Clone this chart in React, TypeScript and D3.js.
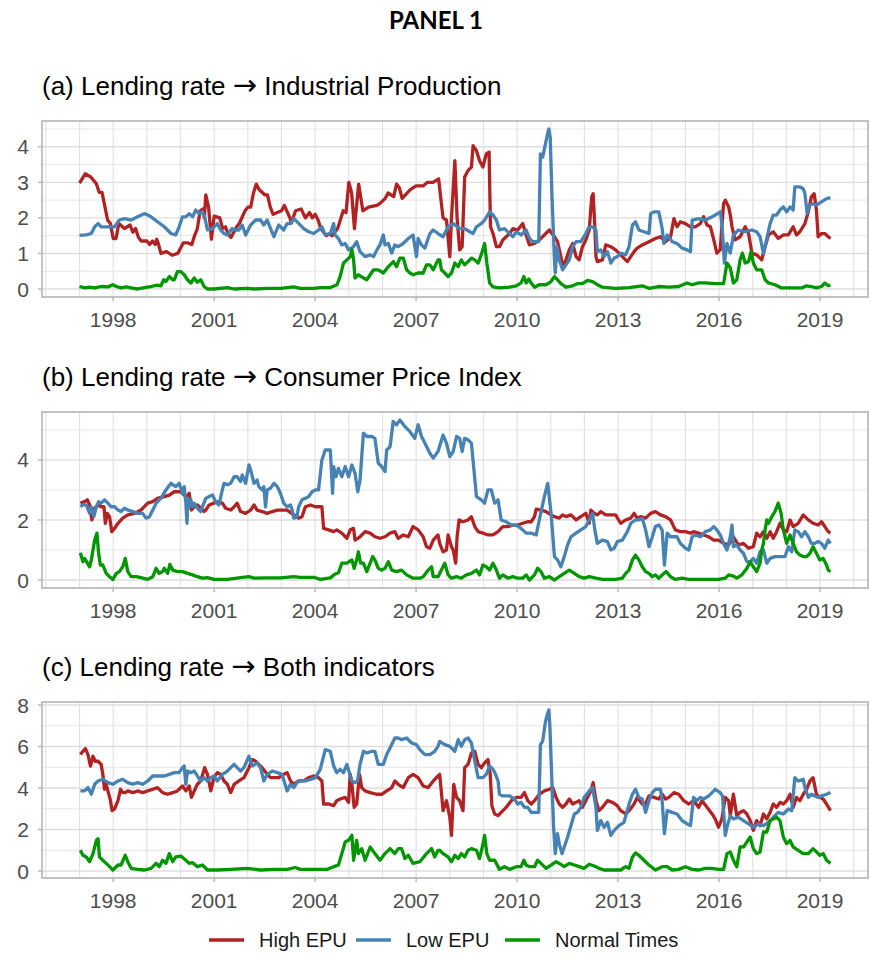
import * as d3 from 'd3';

// months since Jan 1997 -> value
type Pt = [number, number];

const seriesNames = ['High EPU', 'Low EPU', 'Normal Times'];
const seriesColors = ['#B22222', '#4682B4', '#009600'];

const highIP: Pt[] = [[0,2.98],[2,3.24],[4,3.15],[6,2.96],[7,2.72],[8,2.72],[10,1.94],[11,1.84],[12,1.42],[13,1.42],[14,1.84],[16,1.70],[18,1.80],[19,1.60],[20,1.70],[21,1.45],[22,1.35],[24,1.35],[25,1.25],[26,1.35],[27,1.25],[27.5,1.40],[28,1.30],[29,1.00],[31,1.05],[32,1.00],[33,0.95],[35,1.00],[37,1.30],[38.5,1.30],[40,1.25],[41,1.50],[42,1.70],[43,2.20],[44,2.25],[44.5,2.00],[45,2.65],[46,2.30],[47,1.40],[48,2.05],[50,2.00],[51,1.70],[52,1.75],[53,1.55],[54,1.45],[56,1.75],[57,1.85],[59,2.20],[60,2.30],[61,2.30],[62,2.70],[63,2.95],[64,2.80],[66,2.65],[67,2.65],[68,2.30],[69,2.10],[70.5,2.15],[72,2.20],[73,2.35],[75,2.00],[75.5,1.85],[77,2.20],[79,2.25],[80.5,2.00],[82,2.15],[83,2.00],[84,2.10],[85,1.95],[86,1.70],[88,1.50],[89,1.55],[90,1.50],[92,1.70],[93,1.95],[94,2.20],[95,2.15],[96,3.00],[97,2.70],[98,1.70],[99.5,2.95],[101,2.20],[103,2.30],[106,2.35],[107,2.40],[109,2.55],[110,2.70],[112,2.60],[113,2.95],[114,2.85],[115,2.55],[118,2.80],[120,2.90],[122.5,2.90],[124,3.00],[126,3.00],[128,3.10],[129,2.40],[129.6,2.00],[130.8,1.94],[132,0.91],[132.6,2.00],[133.8,3.61],[134.6,2.0],[135.5,1.10],[136.4,1.19],[137.3,3.15],[138.5,3.33],[139.7,3.43],[140.3,4.03],[141.5,3.89],[142.6,3.61],[143.8,3.43],[145,3.80],[146,3.85],[146.5,1.75],[147.4,1.56],[148.6,1.19],[149.7,1.19],[150.9,1.38],[153.3,1.56],[154.5,1.70],[156.2,1.66],[158,1.84],[159.2,1.52],[160.4,1.24],[162.2,1.28],[163.9,1.38],[165.7,1.52],[167.5,1.66],[169.3,1.47],[170.4,1.33],[171.6,0.91],[172.2,0.63],[173.4,0.82],[174.6,1.10],[175.8,1.28],[177,0.91],[178.1,0.82],[179.3,1.19],[180.5,1.38],[181.7,1.66],[182.6,2.59],[183.1,2.68],[183.7,1.75],[184.1,0.91],[184.6,0.77],[186.4,0.82],[187.6,1.24],[189.4,1.19],[191.1,1.10],[192.3,1.01],[193.5,0.91],[195.3,0.77],[196.5,0.91],[197.7,1.05],[198.8,1.15],[200.6,1.24],[203,1.33],[205.3,1.42],[207.1,1.47],[208.9,1.33],[210.7,1.47],[211.9,1.98],[213,1.75],[214.2,1.89],[216,1.84],[217.8,1.75],[219.5,1.75],[221.3,1.84],[222.5,2.03],[223.7,1.80],[224.9,1.75],[226.1,1.38],[227.2,1.01],[228.4,1.10],[229.6,2.40],[230.2,2.50],[231.4,2.31],[232,2.08],[232.6,1.75],[233.7,1.38],[235.5,1.47],[237.3,1.75],[238.5,1.56],[239.7,1.01],[241.4,0.96],[243.2,0.82],[244.4,1.19],[245.6,1.52],[247.3,1.61],[249.1,1.42],[250.9,1.52],[252.7,1.52],[254.4,1.75],[255.6,1.52],[256.8,1.61],[258.6,1.84],[259.8,2.17],[260.9,2.59],[261.9,2.68],[262.7,2.22],[263.3,1.47],[264.5,1.56],[265.7,1.56],[266.9,1.47],[267.7,1.42]];

const lowIP: Pt[] = [[0,1.51],[2.4,1.52],[4.2,1.56],[5.4,1.75],[6.6,1.84],[7.7,1.75],[10.1,1.75],[12.5,1.75],[14.2,1.94],[16,1.98],[18.4,1.94],[20.7,2.03],[23.1,2.12],[24.3,2.08],[25.5,2.03],[27.8,1.89],[30.2,1.75],[32.6,1.56],[34.3,1.52],[35.5,1.75],[36.7,2.03],[37.9,2.03],[39.1,2.12],[40.3,2.03],[41.4,2.22],[42.6,2.12],[43.8,2.17],[44.6,2.03],[45.6,1.66],[47.4,1.70],[49.1,1.84],[50.3,1.66],[51.5,1.56],[52.7,1.52],[54.4,1.70],[55.6,1.66],[56.8,1.66],[58,1.80],[59.2,1.52],[61,1.80],[62.8,1.94],[64.5,1.94],[65.7,1.80],[66.9,1.94],[68.1,1.70],[69.3,1.47],[71,1.80],[72.8,1.66],[74,1.84],[75.2,1.84],[76.4,1.98],[78.2,1.84],[79.9,1.70],[81.7,1.61],[83.5,1.56],[85.2,1.66],[86.4,1.75],[87.6,1.52],[89.4,1.56],[90.6,1.84],[91.1,1.52],[92.3,1.42],[93.5,1.24],[94.7,1.28],[95.9,1.10],[97.7,1.19],[98.8,1.33],[100,1.05],[101.8,0.91],[103.6,0.96],[104.8,0.91],[106,1.10],[107.1,1.24],[108.3,1.52],[108.9,1.24],[110.1,1.28],[111.3,1.01],[112.4,1.24],[113.6,1.19],[115.4,1.28],[117.2,1.42],[118.9,1.52],[120.1,0.91],[120.7,1.42],[121.9,1.24],[123.1,1.15],[124.9,1.56],[126.1,1.66],[127.8,1.56],[129.6,1.47],[131.4,1.75],[133.2,1.84],[135.5,1.70],[137.3,1.70],[139.1,1.61],[140.3,1.56],[141.5,1.75],[143.2,1.84],[144.4,1.94],[146.2,2.17],[147.4,2.08],[148.6,1.94],[149.7,1.66],[151.5,1.70],[153.3,1.56],[154.5,1.47],[155.7,1.61],[157.4,1.52],[159.2,1.66],[160.4,1.42],[161.6,1.33],[162.8,1.33],[163.7,1.33],[164.3,3.80],[165.1,3.71],[166.1,4.08],[166.7,4.31],[167.3,4.50],[167.8,4.26],[168.4,2.68],[169.3,0.82],[169.6,0.45],[170.2,1.19],[171,0.82],[172.2,0.54],[173.4,0.68],[174.6,0.82],[175.8,1.19],[177,1.33],[178.7,1.33],[180.5,1.56],[181.7,1.75],[182.9,1.75],[184.1,1.66],[184.6,1.05],[185.8,1.10],[187,0.91],[188.2,1.05],[189.4,0.73],[190.6,0.87],[191.7,0.91],[192.9,1.01],[194.7,0.96],[195.9,1.19],[197.1,1.80],[198.2,1.89],[199.4,1.66],[201.2,1.61],[203,1.56],[203.6,2.12],[204.8,2.17],[206.5,2.17],[207.7,1.70],[208.3,1.28],[209.5,1.52],[211.3,1.33],[213,1.28],[214.8,1.15],[216.6,1.10],[217.8,1.05],[218.4,1.94],[220.7,1.98],[223.1,1.94],[225.5,2.03],[226.6,2.08],[228.4,2.17],[229,1.84],[229.9,0.73],[230.8,1.28],[232,1.01],[233.1,1.52],[234.9,1.66],[237.3,1.61],[239.7,1.66],[241.4,1.61],[242.6,1.47],[243.8,1.01],[245,1.42],[246.2,1.84],[247.3,2.08],[248.5,2.08],[249.7,2.22],[250.9,2.31],[252.1,2.17],[253.3,2.31],[254.4,2.22],[255,2.87],[256.8,2.87],[258,2.82],[258.6,2.68],[259.4,2.12],[260.3,2.36],[261.5,2.40],[262.7,2.36],[264.5,2.45],[266.3,2.54],[267.7,2.57]];

const normalIP: Pt[] = [[0,0.07],[1.8,0.03],[3.6,0.05],[5.4,0.03],[7.7,0.07],[10.1,0.06],[11.9,0.12],[13.1,0.07],[14.8,0.03],[16.6,0.06],[18.4,0.03],[20.7,0],[23.1,0.04],[25.5,0.07],[27.8,0.11],[29,0.09],[30,0.26],[30.8,0.21],[32,0.35],[33.2,0.26],[33.8,0.26],[34.9,0.49],[36.1,0.49],[37.3,0.40],[38.5,0.26],[39.7,0.17],[40.9,0.31],[42,0.19],[43.2,0.26],[44.4,0.07],[45.6,0],[47.9,0],[52.7,0.04],[55.1,0],[59.8,0.02],[62.2,0],[66.9,0.02],[71.6,0.02],[76.4,0.06],[78.7,0.02],[83.5,0.02],[85.8,0.04],[89.4,0.04],[91.8,0.12],[92.9,0.35],[94.1,0.73],[95.3,0.82],[96.5,0.91],[97.1,1.10],[97.7,0.82],[98.2,0.31],[99.4,0.40],[101.2,0.31],[102.4,0.26],[103.6,0.40],[104.8,0.54],[106.5,0.54],[108.3,0.45],[110.1,0.63],[111.9,0.77],[113,0.63],[114.2,0.87],[115.4,0.87],[116.6,0.54],[117.8,0.45],[118.9,0.40],[120.7,0.45],[122.5,0.45],[123.7,0.68],[124.9,0.68],[126.1,0.54],[127.8,0.82],[128.4,0.82],[129,0.54],[130.2,0.45],[131.4,0.35],[132.6,0.45],[133.8,0.73],[135,0.63],[136.1,0.82],[137.3,0.68],[138.5,0.77],[139.7,0.87],[140.9,0.82],[142.1,0.73],[143.2,0.96],[144.4,1.28],[145.2,0.73],[146.2,0.17],[147.4,0.06],[149.7,0.03],[153.3,0.05],[155.7,0.09],[157.4,0.17],[158.4,0.35],[159.2,0.17],[160.2,0.28],[161,0.17],[162.2,0.05],[163.9,0.12],[166.3,0.12],[168.1,0.21],[169.3,0.35],[170.4,0.26],[171.6,0.15],[173.4,0.05],[175.8,0.09],[177.5,0.15],[179.3,0.15],[181.1,0.24],[182.9,0.21],[184.6,0.12],[186.4,0.05],[191.1,0.02],[195.9,0.04],[200.6,0.09],[203,0.02],[206.5,0.07],[210.1,0.05],[213.6,0.07],[216.6,0.17],[218.4,0.12],[220.7,0.17],[223.1,0.17],[226.6,0.15],[229.6,0.15],[230.8,0.73],[232,0.59],[233.1,0.17],[234.3,0.26],[235.5,0.82],[236.3,1.01],[237.3,0.73],[238.5,0.77],[239.4,1.05],[240.2,0.73],[241.4,0.54],[243.2,0.54],[244.4,0.26],[245.6,0.17],[247.9,0.12],[250.3,0.03],[253.8,0.03],[257.4,0.03],[259.2,0.09],[260.9,0.07],[262.7,0.03],[264.5,0.07],[265.7,0.17],[266.9,0.09],[267.7,0.11]];

const highCPI: Pt[] = [[0.3,2.56],[1.8,2.61],[2.8,2.67],[3.6,2.50],[4.4,2.00],[5.4,2.39],[6.6,2.50],[7.7,2.44],[8.7,2.44],[9.2,1.89],[9.9,2.22],[10.7,2.11],[11.5,1.61],[12.5,1.72],[13.7,1.89],[15.4,2.06],[17.2,2.17],[19.6,2.22],[21.9,2.33],[24.3,2.56],[26.1,2.61],[27.8,2.72],[30.2,2.78],[32,2.83],[33.8,2.94],[36.1,2.94],[37.3,2.83],[38.5,2.78],[39.1,2.89],[39.9,2.33],[40.9,2.44],[42,2.50],[43.2,2.39],[44.4,2.28],[45,2.33],[46.2,2.50],[47.9,2.56],[49.7,2.61],[50.9,2.56],[52.1,2.39],[53.9,2.33],[55.1,2.44],[56.2,2.56],[57.4,2.28],[59.2,2.22],[61,2.33],[62.2,2.50],[63.3,2.33],[65.1,2.28],[66.9,2.22],[68.7,2.28],[70.5,2.33],[72.2,2.33],[74,2.33],[76.4,2.17],[78.1,2.06],[79.3,2.11],[80.5,2.44],[82.3,2.50],[84.1,2.44],[85.2,2.44],[86.4,2.44],[87,1.72],[88.8,1.67],[90.6,1.61],[91.7,1.67],[93.5,1.56],[95.3,1.39],[96.5,1.67],[97.7,1.72],[98.2,1.33],[100,1.44],[101.8,1.61],[103.6,1.56],[105.3,1.44],[107.1,1.39],[108.9,1.44],[110.7,1.56],[112.4,1.61],[113.6,1.39],[115.4,1.50],[117.2,1.44],[118.9,1.78],[120.7,1.67],[122.5,1.44],[123.7,1.11],[124.9,1.06],[126.1,1.33],[127.8,1.50],[128.4,1.22],[129.6,0.94],[130.8,1.00],[131.4,1.50],[132.6,1.11],[133.2,1.00],[134.1,0.56],[134.6,1.44],[135.3,2.00],[136.7,1.94],[138.5,2.00],[139.7,2.11],[140.9,1.78],[142.1,1.61],[143.8,1.56],[145.6,1.50],[147.4,1.50],[149.2,1.61],[150.9,1.78],[152.7,1.78],[154.5,1.83],[156.2,1.83],[158,1.89],[159.8,1.94],[161,1.94],[162.2,2.11],[162.8,2.36],[164.5,2.33],[166.3,2.28],[168.1,2.17],[169.3,2.11],[171,2.06],[172.2,2.17],[173.4,2.11],[175.2,2.17],[177,2.00],[178.7,2.11],[180.5,2.22],[181.7,1.89],[182.3,2.33],[183.5,2.22],[184.6,2.17],[185.8,2.28],[187.6,2.17],[189.4,2.17],[191.1,2.17],[192.9,1.89],[194.7,2.00],[196.5,2.06],[197.7,2.22],[198.8,2.06],[200,2.11],[201.8,2.06],[203.6,2.22],[205.3,2.28],[207.1,2.17],[208.9,2.11],[210.7,2.00],[212.4,1.67],[214.2,1.61],[216,1.61],[217.8,1.56],[218.9,1.61],[220.7,1.56],[222.5,1.50],[224.3,1.44],[226.1,1.33],[227.8,1.33],[229.6,1.22],[231.4,1.17],[233.1,1.44],[234.9,1.17],[236.7,1.22],[238.5,1.06],[240.2,1.11],[241.4,1.56],[242.6,1.44],[243.8,1.61],[245,1.39],[246.2,1.61],[247.3,1.39],[248.5,1.61],[249.7,1.89],[250.9,1.67],[252.1,1.61],[253.3,2.00],[254.4,1.78],[256.2,1.89],[258,2.17],[259.8,2.00],[261.5,1.89],[263.3,1.83],[264.5,1.94],[265.7,1.78],[266.9,1.61],[267.7,1.56]];

const lowCPI: Pt[] = [[0.3,2.44],[1.2,2.50],[2.4,2.50],[3.6,2.22],[4.2,2.44],[5.1,2.11],[6.0,2.44],[6.8,2.61],[7.7,2.56],[8.9,2.67],[10.1,2.56],[11.3,2.44],[12.5,2.44],[13.7,2.33],[14.8,2.28],[16.0,2.39],[17.2,2.33],[19.0,2.28],[20.7,2.22],[22.5,2.22],[23.7,2.06],[24.9,2.11],[26.1,2.33],[27.3,2.56],[29.0,2.72],[30.8,3.00],[32.6,3.22],[34.3,3.11],[35.5,3.22],[36.7,2.89],[37.3,3.11],[37.9,2.56],[38.3,1.89],[38.7,2.72],[39.1,2.44],[39.7,2.67],[40.3,2.44],[40.9,2.56],[42.0,2.39],[43.2,2.28],[43.8,2.44],[45.0,2.72],[46.2,2.78],[47.4,2.83],[48.5,2.61],[49.7,2.50],[50.9,3.00],[51.5,3.22],[52.7,3.17],[53.9,3.22],[55.1,3.44],[56.2,3.44],[57.4,3.28],[58.0,3.50],[59.2,3.22],[60.4,3.83],[61.0,3.67],[62.2,3.22],[63.3,3.33],[63.9,3.11],[65.1,3.00],[65.7,3.11],[66.3,2.44],[66.9,3.00],[68.1,3.06],[69.3,3.22],[70.5,3.11],[71.6,2.89],[72.8,2.56],[74.0,2.44],[75.2,2.50],[75.8,2.33],[76.4,2.06],[77.5,2.11],[78.1,2.44],[79.3,2.67],[80.5,2.72],[81.7,2.78],[82.9,2.94],[84.1,3.00],[85.2,3.00],[86.4,4.00],[87.6,4.33],[89.4,4.33],[90.2,2.89],[90.6,3.78],[91.4,3.44],[92.3,3.72],[93.5,3.44],[94.7,3.78],[95.9,3.44],[97.1,3.83],[98.2,3.56],[99.2,2.94],[100.0,3.33],[101.2,4.89],[102.4,4.78],[104.2,4.78],[105.3,4.72],[106.5,3.89],[107.7,3.78],[108.9,3.61],[109.5,4.33],[110.7,4.44],[111.8,5.28],[113.0,5.17],[114.2,5.33],[116.0,5.11],[117.8,4.94],[119.5,4.72],[120.7,5.17],[121.9,4.78],[123.1,4.56],[124.9,4.22],[126.1,4.06],[127.8,4.28],[129.6,4.83],[130.8,4.56],[132.0,4.11],[133.2,4.28],[134.4,4.78],[135.5,4.72],[136.4,4.28],[137.3,4.72],[138.5,4.67],[139.7,4.56],[141.5,2.78],[143.2,2.67],[144.4,2.56],[145.6,3.00],[146.8,3.00],[148.0,2.56],[149.2,2.67],[150.3,2.00],[152.1,1.94],[153.9,1.83],[155.7,1.83],[157.4,1.72],[159.2,1.56],[161.0,1.56],[162.8,1.50],[163.9,2.00],[165.7,2.78],[166.9,3.22],[168.1,2.22],[169.3,0.78],[170.4,0.67],[171.6,0.44],[172.8,0.78],[174.0,1.17],[175.2,1.44],[177.0,1.56],[178.7,1.67],[180.5,1.78],[181.7,2.00],[182.9,2.22],[183.7,1.67],[184.6,1.22],[186.4,1.33],[188.2,1.28],[189.4,1.00],[190.6,1.06],[191.7,1.28],[193.5,1.33],[195.3,1.61],[196.5,1.89],[198.2,2.00],[199.4,2.00],[200.6,2.06],[201.8,1.67],[203.0,1.11],[204.2,1.44],[205.3,1.78],[206.5,1.83],[207.7,1.67],[208.5,0.50],[209.5,1.56],[210.7,1.44],[211.9,1.44],[213.0,1.44],[214.2,1.22],[216.0,1.06],[217.2,1.00],[218.4,1.44],[219.5,1.50],[221.3,1.44],[223.1,1.61],[224.9,1.67],[226.1,1.78],[227.2,1.67],[228.4,1.50],[229.6,1.22],[230.8,1.00],[232.0,1.44],[232.6,1.83],[233.1,1.11],[234.3,1.17],[235.5,1.00],[236.7,0.89],[237.9,0.61],[239.1,0.61],[240.2,0.72],[241.4,0.56],[242.6,0.94],[243.8,1.00],[245.0,0.56],[246.2,0.72],[247.9,0.78],[249.7,0.78],[251.5,0.78],[252.7,1.11],[253.9,0.94],[255.0,1.67],[256.2,1.61],[257.4,1.44],[258.6,1.61],[259.8,1.44],[260.9,1.22],[262.1,1.22],[263.3,1.28],[264.5,1.22],[265.7,1.06],[266.9,1.33],[267.7,1.22]];

const normalCPI: Pt[] = [[0.3,0.91],[1.2,0.61],[1.8,0.72],[2.8,0.56],[3.6,0.44],[4.2,0.67],[5.4,1.33],[6.2,1.56],[6.8,0.89],[7.4,0.50],[8.3,0.50],[9.5,0.22],[10.7,0.11],[11.9,0.02],[13.1,0.22],[14.2,0.28],[15.4,0.44],[16.3,0.72],[17.2,0.28],[18.4,0.11],[20.2,0.11],[21.9,0.08],[24.3,0.02],[26.1,0.11],[27.3,0.39],[28.4,0.22],[29.6,0.28],[30.2,0.39],[31.4,0.22],[32.2,0.52],[33.2,0.33],[34.9,0.28],[36.7,0.28],[38.5,0.22],[40.3,0.17],[42.0,0.11],[43.8,0.06],[45.6,0.08],[47.9,0.02],[52.7,0.02],[57.4,0.08],[60.4,0.11],[62.2,0.06],[66.9,0.07],[71.6,0.07],[76.4,0.11],[78.7,0.09],[83.5,0.09],[85.8,0.02],[89.4,0.07],[91.1,0.20],[92.3,0.24],[93.5,0.56],[95.3,0.56],[97.1,0.67],[97.9,0.39],[98.8,0.67],[99.4,0.94],[100.2,0.56],[101.2,0.56],[102.4,0.28],[103.6,0.56],[104.5,0.78],[105.3,0.67],[106.5,0.39],[107.7,0.33],[108.9,0.39],[110.1,0.61],[111.3,0.33],[113.0,0.28],[114.8,0.33],[116.6,0.17],[118.9,0.06],[121.3,0.06],[122.5,0.11],[124.3,0.33],[125.5,0.44],[126.1,0.11],[127.8,0.11],[129.0,0.33],[130.2,0.56],[131.4,0.17],[132.6,0.06],[134.4,0.11],[136.1,0.06],[137.9,0.17],[139.7,0.22],[141.5,0.33],[142.6,0.17],[143.8,0.50],[145.0,0.44],[146.2,0.33],[147.4,0.56],[148.6,0.33],[149.7,0.06],[150.9,0.17],[152.7,0.06],[154.5,0.11],[156.2,0.06],[158.0,0.06],[159.2,0.17],[160.4,0.00],[162.2,0.17],[163.3,0.39],[164.5,0.28],[165.7,0.06],[167.5,0.11],[169.3,0.00],[171.0,0.11],[172.8,0.22],[174.6,0.33],[176.4,0.22],[178.1,0.11],[179.9,0.06],[181.7,0.11],[184.1,0.06],[186.4,0.02],[191.1,0.02],[193.5,0.06],[194.7,0.22],[195.9,0.33],[197.1,0.67],[198.2,0.83],[199.4,0.67],[200.6,0.44],[201.8,0.28],[203.0,0.22],[204.2,0.11],[205.3,0.17],[206.5,0.06],[207.7,0.17],[209.1,0.28],[210.7,0.11],[212.4,0.02],[214.8,0.06],[217.2,0.02],[220.7,0.02],[224.3,0.02],[227.8,0.02],[230.2,0.06],[231.4,0.17],[233.1,0.13],[234.3,0.06],[236.1,0.17],[237.9,0.39],[239.1,0.61],[240.2,0.44],[241.4,0.28],[242.6,0.56],[243.2,1.00],[243.8,1.22],[244.4,1.67],[245.0,2.00],[245.6,1.89],[246.8,2.11],[247.9,2.28],[249.1,2.56],[250.1,2.22],[250.9,1.67],[252.1,1.22],[253.3,1.50],[254.4,1.22],[255.6,0.94],[256.8,0.83],[258.0,0.78],[259.2,0.78],[260.4,0.89],[261.5,1.11],[262.7,0.89],[263.9,0.67],[265.1,0.72],[266.3,0.50],[266.9,0.33],[267.7,0.28]];

const highBoth: Pt[] = [[0.3,5.61],[1.2,5.77],[2.1,5.90],[3.0,5.61],[3.9,5.06],[4.8,5.53],[5.6,5.29],[6.6,5.29],[7.7,5.14],[8.3,4.66],[8.9,3.94],[9.5,4.18],[10.1,3.86],[10.9,3.47],[11.6,2.91],[12.5,2.99],[13.7,3.39],[14.6,3.94],[15.4,3.78],[16.3,3.78],[17.2,3.86],[19.0,3.78],[20.7,3.86],[22.5,3.78],[24.3,3.86],[26.1,3.94],[27.8,4.02],[29.6,3.78],[31.4,3.70],[33.2,3.78],[34.9,3.86],[36.7,4.10],[37.9,3.86],[39.1,4.10],[39.9,3.55],[40.9,3.86],[42.0,4.18],[43.2,4.34],[44.6,4.98],[45.6,4.66],[46.8,3.86],[47.9,4.50],[49.1,4.74],[50.3,4.66],[51.5,4.34],[52.7,4.18],[53.9,3.78],[55.1,4.18],[56.8,4.34],[58.6,4.50],[60.4,4.98],[61.6,5.37],[62.8,5.29],[63.9,5.14],[65.1,4.98],[66.9,4.66],[68.1,4.50],[69.3,4.50],[71.0,4.50],[72.8,4.66],[74.0,4.74],[75.2,4.34],[76.4,4.18],[78.1,4.34],[79.9,4.34],[81.7,4.50],[83.5,4.58],[85.2,4.50],[86.4,4.34],[87.0,3.23],[88.8,3.23],[90.6,3.15],[91.7,3.39],[92.9,3.47],[94.7,3.55],[95.9,3.31],[96.5,4.66],[97.1,4.18],[97.9,3.07],[98.8,3.23],[99.8,4.66],[100.6,4.02],[101.8,3.86],[103.6,3.78],[105.9,3.70],[107.7,3.70],[109.5,3.86],[111.3,4.02],[112.4,4.34],[113.6,4.18],[115.4,4.02],[117.2,4.50],[118.9,4.66],[120.7,4.50],[122.5,4.10],[124.3,4.02],[126.1,4.34],[127.8,4.58],[128.4,4.66],[129.6,2.91],[130.8,3.39],[132.0,2.59],[132.6,1.72],[133.4,4.18],[134.4,3.55],[135.5,3.39],[136.7,2.91],[137.3,4.98],[138.5,5.14],[139.7,5.69],[140.9,5.77],[142.1,5.14],[143.2,4.98],[144.4,5.21],[145.6,5.37],[146.4,4.66],[147.0,3.15],[148.0,2.75],[149.2,2.67],[150.3,2.83],[152.1,3.07],[153.9,3.39],[155.7,3.55],[157.4,3.55],[158.6,3.78],[159.8,3.39],[161.0,3.23],[162.2,3.39],[163.9,3.70],[165.7,3.86],[167.5,3.94],[168.7,4.02],[169.9,3.55],[171.0,3.23],[172.2,3.07],[173.4,3.23],[174.6,3.47],[175.8,3.23],[177.0,3.31],[178.1,3.39],[179.3,3.07],[181.1,3.55],[182.3,3.86],[183.1,4.26],[184.1,3.39],[185.2,2.91],[186.4,3.07],[188.2,3.39],[190.0,3.31],[191.7,3.15],[192.9,2.91],[194.7,2.75],[195.9,2.91],[197.7,3.23],[198.8,3.55],[200.6,3.23],[201.8,3.23],[203.0,3.62],[204.8,3.55],[206.5,3.47],[207.7,3.70],[208.9,3.47],[210.1,3.55],[211.9,3.78],[213.6,3.70],[215.4,3.39],[217.2,3.23],[218.9,3.39],[220.7,3.07],[221.9,3.39],[223.7,3.07],[225.5,2.75],[226.6,2.51],[227.8,2.11],[229.0,2.51],[230.2,3.55],[231.4,3.39],[232.0,2.67],[233.1,3.70],[234.3,2.67],[235.5,2.83],[236.7,2.91],[237.9,2.75],[239.1,2.43],[240.2,1.96],[241.4,2.43],[242.6,2.19],[243.8,2.75],[245.0,2.51],[246.2,2.83],[247.3,3.23],[248.5,3.07],[249.7,3.31],[250.9,3.23],[252.1,3.39],[253.3,3.70],[254.4,3.07],[255.6,3.55],[256.8,3.39],[258.0,3.70],[259.2,3.94],[260.4,4.34],[261.5,4.50],[262.7,3.70],[263.9,3.55],[265.1,3.47],[266.3,3.23],[267.7,2.91]];

const lowBoth: Pt[] = [[0.3,3.86],[1.8,3.86],[3.0,4.02],[4.2,3.70],[5.4,4.18],[6.6,4.34],[8.3,4.42],[10.1,4.26],[11.9,4.18],[13.7,4.34],[15.4,4.42],[17.2,4.26],[19.0,4.18],[20.7,4.26],[22.5,4.18],[24.3,4.34],[26.1,4.58],[27.8,4.58],[30.2,4.58],[32.0,4.66],[33.8,4.74],[35.5,4.74],[36.7,4.98],[37.3,5.06],[37.9,4.18],[38.5,4.82],[39.7,4.74],[40.9,4.82],[42.0,4.58],[43.2,4.34],[44.4,4.50],[45.6,4.34],[46.8,4.50],[47.9,4.58],[49.1,4.34],[50.9,4.66],[52.7,4.82],[53.9,4.98],[55.1,5.14],[56.2,4.98],[57.4,4.82],[58.6,4.98],[60.4,5.53],[61.6,5.06],[63.3,5.21],[64.5,4.98],[65.7,4.34],[66.9,4.66],[68.7,4.82],[70.5,4.74],[72.2,4.66],[74.0,3.86],[75.2,4.18],[76.4,4.02],[77.5,4.26],[78.7,4.34],[80.5,4.34],[82.3,4.42],[84.1,4.50],[85.8,4.90],[87.6,5.85],[89.4,5.77],[90.6,5.06],[91.7,4.74],[92.9,4.90],[94.1,4.74],[95.3,5.14],[96.2,4.74],[97.1,4.34],[98.2,4.26],[99.1,4.34],[100.0,5.14],[101.2,5.77],[102.4,5.69],[104.2,5.77],[105.3,5.77],[106.5,5.14],[108.3,5.14],[109.5,5.61],[110.7,5.93],[112.4,6.41],[113.6,6.41],[114.8,6.33],[116.6,6.41],[118.4,6.17],[120.1,6.09],[121.3,5.85],[123.1,5.61],[124.9,5.61],[126.6,5.77],[127.8,6.01],[128.4,6.25],[130.2,6.09],[132.0,6.01],[133.8,5.77],[135.0,6.33],[136.1,6.01],[137.3,6.33],[138.5,6.41],[139.7,6.17],[140.9,5.29],[142.1,4.50],[143.8,4.50],[145.0,4.66],[146.2,5.06],[147.4,4.90],[148.3,4.66],[149.2,4.34],[149.7,3.70],[150.9,3.62],[153.3,3.62],[155.1,3.47],[156.2,3.23],[157.4,3.31],[158.6,3.07],[159.8,3.07],[161.0,2.83],[162.8,2.83],[163.7,2.83],[164.3,6.09],[165.1,6.25],[166.1,7.20],[166.7,7.52],[167.3,7.76],[167.7,6.88],[168.3,4.66],[169.0,2.11],[169.6,0.84],[170.4,1.80],[171.0,1.32],[172.0,0.84],[172.8,1.16],[174.0,1.64],[175.2,2.19],[176.4,2.75],[177.5,2.83],[178.7,3.07],[179.9,3.55],[181.7,3.86],[182.9,4.02],[184.1,3.07],[184.6,1.96],[185.8,2.43],[187.0,2.11],[188.2,2.35],[189.4,1.72],[190.6,1.96],[192.3,2.19],[194.1,2.35],[195.9,3.23],[197.1,3.70],[198.2,3.94],[199.4,3.55],[200.6,3.47],[201.8,2.83],[203.0,3.39],[204.2,3.78],[205.3,3.94],[207.1,3.94],[207.7,3.39],[208.5,1.80],[209.5,2.91],[211.3,2.83],[213.0,2.75],[214.8,2.43],[216.6,2.27],[217.8,2.19],[218.9,3.55],[220.1,3.39],[221.3,3.55],[222.5,3.47],[224.3,3.62],[225.5,3.78],[226.6,3.94],[228.4,3.78],[229.2,3.62],[230.2,1.72],[230.8,2.11],[232.0,2.67],[233.1,2.51],[234.9,2.59],[236.7,2.43],[238.5,2.27],[240.2,2.11],[242.0,2.27],[243.8,2.19],[245.6,2.35],[247.3,2.59],[249.1,2.83],[250.9,2.75],[252.7,2.99],[253.9,2.91],[255.0,4.50],[256.2,4.34],[258.0,4.42],[258.6,4.02],[259.8,3.55],[260.9,3.70],[262.1,3.62],[263.3,3.55],[264.5,3.62],[266.3,3.70],[267.7,3.78]];

const normalBoth: Pt[] = [[0.3,1.00],[1.2,0.76],[2.4,0.68],[3.6,0.45],[4.8,0.84],[6.0,1.48],[6.6,1.56],[7.1,0.68],[8.3,0.52],[9.5,0.37],[10.7,0.21],[11.9,0.05],[13.7,0.29],[14.8,0.29],[16.3,0.76],[17.2,0.45],[18.4,0.13],[20.7,0.08],[23.1,0.05],[25.5,0.13],[27.3,0.37],[28.4,0.21],[29.6,0.52],[30.8,0.37],[32.0,0.84],[33.2,0.45],[34.3,0.68],[36.1,0.72],[37.9,0.52],[39.1,0.37],[40.3,0.40],[42.0,0.21],[43.8,0.29],[45.6,0.05],[49.1,0.05],[53.9,0.08],[59.8,0.13],[64.5,0.05],[69.3,0.08],[74.0,0.08],[76.9,0.17],[78.7,0.08],[83.5,0.08],[88.2,0.08],[90.6,0.21],[92.3,0.29],[93.5,0.84],[94.7,1.40],[95.9,1.48],[97.1,1.72],[97.7,0.52],[98.8,1.48],[99.4,0.84],[100.6,1.08],[101.8,0.52],[103.6,1.16],[105.3,0.84],[107.1,0.52],[108.9,0.84],[110.7,1.08],[112.4,0.84],[113.6,1.08],[114.8,1.08],[116.0,0.60],[117.2,0.76],[118.9,0.37],[121.3,0.45],[123.7,0.84],[125.5,1.08],[126.6,0.68],[127.8,1.00],[128.4,1.00],[129.6,0.84],[131.4,0.68],[132.6,0.45],[133.8,0.76],[135.0,0.60],[136.1,0.84],[137.3,0.68],[138.5,1.00],[139.7,1.08],[141.5,1.00],[142.6,0.60],[143.6,1.16],[144.4,1.72],[145.2,0.84],[146.2,0.52],[148.0,0.52],[149.7,0.08],[151.5,0.21],[153.3,0.08],[155.7,0.21],[157.4,0.21],[158.4,0.52],[159.2,0.29],[160.4,0.21],[162.2,0.21],[163.3,0.52],[164.5,0.37],[166.3,0.13],[168.1,0.29],[169.9,0.45],[171.0,0.37],[172.8,0.21],[174.6,0.37],[176.4,0.29],[178.1,0.21],[179.9,0.13],[181.7,0.33],[183.5,0.24],[185.2,0.13],[187.0,0.05],[190.0,0.05],[192.9,0.05],[194.7,0.21],[195.9,0.13],[197.1,0.68],[198.2,0.87],[199.4,0.76],[201.2,0.52],[203.0,0.29],[205.3,0.05],[207.7,0.21],[209.5,0.21],[211.3,0.05],[213.6,0.08],[216.0,0.21],[218.4,0.08],[220.7,0.05],[223.1,0.13],[225.5,0.13],[227.8,0.08],[229.6,0.08],[230.8,0.84],[232.0,0.92],[233.1,0.52],[234.3,0.21],[235.5,1.16],[236.7,1.16],[237.9,1.40],[239.1,1.64],[240.2,1.08],[241.4,0.84],[242.6,0.92],[243.8,1.88],[245.0,1.88],[246.2,2.43],[247.3,2.51],[248.5,2.59],[249.7,2.43],[250.9,1.64],[252.1,1.32],[253.3,1.48],[254.4,1.16],[256.2,1.00],[258.0,0.84],[259.8,0.84],[261.5,1.08],[262.7,0.92],[263.9,0.76],[265.1,0.84],[266.3,0.52],[267.7,0.37]];

const panelTitleLeft = ['(a) Lending rate', '(b) Lending rate', '(c) Lending rate'];
const panelTitleRight = ['Industrial Production', 'Consumer Price Index', 'Both indicators'];
const panelSeries = [
  [highIP, lowIP, normalIP],
  [highCPI, lowCPI, normalCPI],
  [highBoth, lowBoth, normalBoth],
];
const yStepMajor = [1, 2, 2];
const xLabelYears = [1998, 2001, 2004, 2007, 2010, 2013, 2016, 2019];

const W = 876;
const H = 960;
const plotLeft = 42;
const plotRight = 868;
const plotTops = [121, 412, 702];
const plotH = 176;
const font = 'Liberation Sans, Arial, Helvetica, sans-serif';

const start = Date.UTC(1997, 0, 1);
const toDate = (m: number) => new Date(start + m * 30.4375 * 864e5);

const allMonths = panelSeries.flat(2).map((d) => d[0]);
const mMin = d3.min(allMonths) as number;
const mMax = d3.max(allMonths) as number;
const mPad = (mMax - mMin) * 0.05;
const x = d3.scaleUtc().domain([toDate(mMin - mPad), toDate(mMax + mPad)]).range([plotLeft, plotRight]);

function Panel({ idx }: { idx: number }) {
  const top = plotTops[idx];
  const series = panelSeries[idx];
  const step = yStepMajor[idx];
  const vals = series.flat().map((d) => d[1]);
  const lo = d3.min(vals) as number;
  const hi = d3.max(vals) as number;
  const pad = (hi - lo) * 0.05;
  const y = d3.scaleLinear().domain([lo - pad, hi + pad]).range([top + plotH, top]);
  const majors = d3.range(0, hi + pad, step);
  const minors = d3.range(step / 2, hi + pad, step).concat([-step / 2]).filter((v) => v > lo - pad && v < hi + pad);
  const years = x.ticks(d3.utcYear.every(1) as d3.TimeInterval);
  const line = d3
    .line<Pt>()
    .x((d) => x(toDate(d[0])))
    .y((d) => y(d[1]));

  return (
    <g>
      <text x={plotLeft} y={top - 26} fontSize={26} fill="#000" fontFamily={font}>
        {panelTitleLeft[idx] + ' '}
        <tspan fontFamily="DejaVu Sans" fontSize={29}>{'\u2192'}</tspan>
        {' ' + panelTitleRight[idx]}
      </text>
      <rect x={plotLeft} y={top} width={plotRight - plotLeft} height={plotH} fill="#fff" />
      {minors.map((v) => (
        <line key={'mn' + v} x1={plotLeft} x2={plotRight} y1={y(v)} y2={y(v)} stroke="#e6e6e6" strokeWidth={1} />
      ))}
      {years.map((d) => (
        <line key={'yr' + d.getTime()} x1={x(d)} x2={x(d)} y1={top} y2={top + plotH} stroke="#e2e2e2" strokeWidth={1.2} />
      ))}
      {majors.map((v) => (
        <line key={'mj' + v} x1={plotLeft} x2={plotRight} y1={y(v)} y2={y(v)} stroke="#dedede" strokeWidth={1.4} />
      ))}
      {series.map((s, i) => (
        <path key={i} d={line(s) as string} fill="none" stroke={seriesColors[i]} strokeWidth={3.3} strokeLinejoin="round" />
      ))}
      <rect x={plotLeft} y={top} width={plotRight - plotLeft} height={plotH} fill="none" stroke="#b3b3b3" strokeWidth={1.6} />
      {majors.map((v) => (
        <g key={'yl' + v}>
          <line x1={plotLeft - 4} x2={plotLeft} y1={y(v)} y2={y(v)} stroke="#b3b3b3" strokeWidth={1.4} />
          <text x={plotLeft - 13} y={y(v)} dy="0.36em" textAnchor="end" fontSize={21} fill="#4d4d4d" fontFamily={font}>
            {v}
          </text>
        </g>
      ))}
      {xLabelYears.map((yr) => {
        const px = x(new Date(Date.UTC(yr, 0, 1)));
        return (
          <g key={'xl' + yr}>
            <line x1={px} x2={px} y1={top + plotH} y2={top + plotH + 4} stroke="#b3b3b3" strokeWidth={1.4} />
            <text x={px} y={top + plotH + 30} textAnchor="middle" fontSize={21} fill="#4d4d4d" fontFamily={font}>
              {yr}
            </text>
          </g>
        );
      })}
    </g>
  );
}

const legendLineX = [209, 356, 505];

export default function App() {
  return (
    <svg width={W} height={H} style={{ position: 'absolute', left: 0, top: 0, background: '#fff' }}>
      <rect width={W} height={H} fill="#fff" />
      <text x={436} y={29} textAnchor="middle" fontSize={24} fontWeight="bold" fontFamily="Lato, 'Open Sans', sans-serif" fill="#000">
        PANEL 1
      </text>
      {[0, 1, 2].map((i) => (
        <Panel key={i} idx={i} />
      ))}
      {seriesNames.map((name, i) => (
        <g key={name}>
          <line x1={legendLineX[i]} x2={legendLineX[i] + 35} y1={940} y2={940} stroke={seriesColors[i]} strokeWidth={3.5} />
          <text x={legendLineX[i] + 50} y={940} dy="0.36em" fontSize={20} fill="#1a1a1a" fontFamily={font}>
            {name}
          </text>
        </g>
      ))}
    </svg>
  );
}
